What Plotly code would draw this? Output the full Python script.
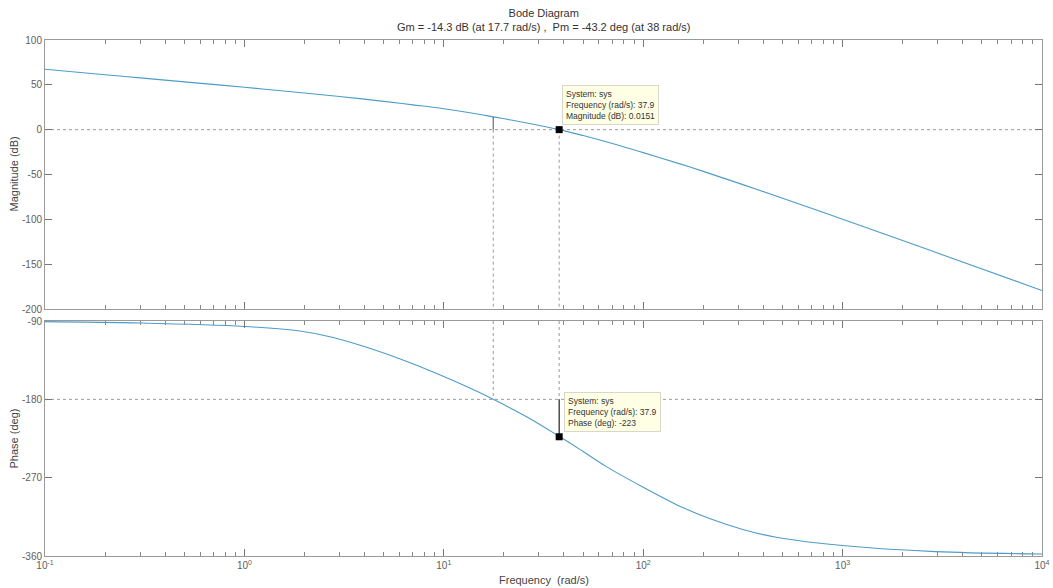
import math
import plotly.graph_objects as go

# ---------------- data ----------------
freq_mag = [0.1, 0.2, 0.3, 0.5, 1, 2, 3, 5, 7, 10, 14, 17.7, 25, 37.9, 50, 70, 100, 150, 200, 316, 500,
            1000, 2000, 3162, 10000]
mag_db = [67.3, 61.3, 57.8, 53.3, 47.3, 40.9, 37.0, 31.6, 27.7, 23.4, 18.4, 14.3, 8.2, 0.0151, -6.6, -15.4,
          -25.6, -37.6, -46.5, -61.3, -76.4, -99.8, -123.6, -139.4, -179.4]

freq_ph = [0.1, 0.3, 1, 1.9, 2.79, 4.1, 6, 8.9, 13.1, 17.7, 26, 37.9, 50, 65, 100, 147, 215, 316, 464, 1000,
           2920, 10000]
phase_deg = [-90.7, -92.3, -96.3, -101.5, -108.9, -120.2, -133.4, -148.8, -165.6, -180, -200, -222.5, -240,
             -257, -281, -301, -317, -329.5, -338.5, -348, -355, -357.7]

gm_freq = 17.7      # phase crossover (rad/s)
gm_mag = 14.3       # magnitude at phase crossover (dB)
pm_freq = 37.9      # gain crossover (rad/s)
pm_mag = 0.0151     # datatip magnitude (dB)
pm_phase = -223     # datatip phase (deg)

x_tickvals = [0.1, 1, 10, 100, 1000, 10000]
x_ticktext = ["10<sup>-1</sup>", "10<sup>0</sup>", "10<sup>1</sup>", "10<sup>2</sup>", "10<sup>3</sup>", "10<sup>4</sup>"]
mag_ticks = [100, 50, 0, -50, -100, -150, -200]
mag_ticktext = ["100", "50", "0", "-50", "-100", "-150", "-200"]
ph_ticks = [-90, -180, -270, -360]
ph_ticktext = ["-90", "-180", "-270", "-360"]

title_lines = ["Bode Diagram", "Gm = -14.3 dB (at 17.7 rad/s) ,  Pm = -43.2 deg (at 38 rad/s)"]
tip_mag = ["System: sys", "Frequency (rad/s): 37.9", "Magnitude (dB): 0.0151"]
tip_ph = ["System: sys", "Frequency (rad/s): 37.9", "Phase (deg): -223"]

# ---------------- styling ----------------
FONT = "Liberation Sans, Arial, sans-serif"
CURVE = "#4d9cc8"
FRAME = "#9a9a9a"
TICKFONT = dict(family=FONT, size=10, color="#606060")
DOT = "#9a9a9a"

fig = go.Figure()

# curves
fig.add_trace(go.Scatter(x=freq_mag, y=mag_db, mode="lines", line=dict(color=CURVE, width=1.1, shape="spline"),
                         xaxis="x", yaxis="y", hoverinfo="skip"))
fig.add_trace(go.Scatter(x=freq_ph, y=phase_deg, mode="lines", line=dict(color=CURVE, width=1.1, shape="spline"),
                         xaxis="x2", yaxis="y2", hoverinfo="skip"))

# horizontal dotted reference lines
fig.add_trace(go.Scatter(x=[x_tickvals[0], x_tickvals[-1]], y=[0, 0], mode="lines",
                         line=dict(color=DOT, width=1, dash="dot"), xaxis="x", yaxis="y", hoverinfo="skip"))
fig.add_trace(go.Scatter(x=[x_tickvals[0], x_tickvals[-1]], y=[-180, -180], mode="lines",
                         line=dict(color=DOT, width=1, dash="dot"), xaxis="x2", yaxis="y2", hoverinfo="skip"))

# vertical dotted lines at crossover frequencies
for f in (gm_freq, pm_freq):
    fig.add_trace(go.Scatter(x=[f, f], y=[0, mag_ticks[-1]], mode="lines",
                             line=dict(color=DOT, width=1, dash="dot"), xaxis="x", yaxis="y", hoverinfo="skip"))
    fig.add_trace(go.Scatter(x=[f, f], y=[ph_ticks[0], -180], mode="lines",
                             line=dict(color=DOT, width=1, dash="dot"), xaxis="x2", yaxis="y2", hoverinfo="skip"))

# margin lines
fig.add_trace(go.Scatter(x=[gm_freq, gm_freq], y=[0, gm_mag], mode="lines",
                         line=dict(color="#707070", width=1.2), xaxis="x", yaxis="y", hoverinfo="skip"))
fig.add_trace(go.Scatter(x=[pm_freq, pm_freq], y=[-180, pm_phase], mode="lines",
                         line=dict(color="#222222", width=1.2), xaxis="x2", yaxis="y2", hoverinfo="skip"))

# datatip markers
fig.add_trace(go.Scatter(x=[pm_freq], y=[pm_mag], mode="markers",
                         marker=dict(symbol="square", size=7, color="black"), xaxis="x", yaxis="y", hoverinfo="skip"))
fig.add_trace(go.Scatter(x=[pm_freq], y=[pm_phase], mode="markers",
                         marker=dict(symbol="square", size=7, color="black"), xaxis="x2", yaxis="y2", hoverinfo="skip"))

axis_common = dict(showgrid=False, zeroline=False, showline=True, linecolor=FRAME, linewidth=1,
                   mirror="ticks", ticks="inside", tickcolor="#777777", ticklen=7, tickfont=TICKFONT,
                   automargin=False)

xaxis_common = dict(axis_common, type="log", range=[math.log10(x_tickvals[0]), math.log10(x_tickvals[-1])],
                    tickvals=x_tickvals,
                    minor=dict(ticks="inside", ticklen=4, dtick="D1", tickcolor="#888888", showgrid=False))

ML, MR, MT, MB = 45, 11, 40, 32
H = 588
plot_h = H - MT - MB

mag_bottom = (H - MB - 309) / plot_h
ph_top = (H - MB - 321) / plot_h

fig.update_layout(
    width=1053, height=588,
    margin=dict(l=ML, r=MR, t=MT, b=MB),
    paper_bgcolor="white", plot_bgcolor="white",
    showlegend=False,
    font=dict(family=FONT, size=10, color="#444444"),
    xaxis=dict(xaxis_common, domain=[0, 1], anchor="y", showticklabels=False),
    yaxis=dict(axis_common, domain=[mag_bottom, 1], anchor="x", range=[mag_ticks[-1], mag_ticks[0]],
               tickvals=mag_ticks, ticktext=mag_ticktext),
    xaxis2=dict(xaxis_common, domain=[0, 1], anchor="y2", matches="x", ticktext=x_ticktext),
    yaxis2=dict(axis_common, domain=[0, ph_top], anchor="x2", range=[ph_ticks[-1], ph_ticks[0]],
                tickvals=ph_ticks, ticktext=ph_ticktext),
)

annotations = [
    dict(text="<br>".join(title_lines), xref="paper", yref="paper", x=0.5, y=1, xanchor="center",
         yanchor="bottom", yshift=5, showarrow=False, font=dict(family=FONT, size=11, color="#333333")),
    dict(text="Magnitude (dB)", xref="paper", yref="paper", x=0, y=(mag_bottom + 1) / 2, xshift=-32,
         xanchor="center", yanchor="middle", textangle=-90, showarrow=False,
         font=dict(family=FONT, size=11, color="#444444")),
    dict(text="Phase (deg)", xref="paper", yref="paper", x=0, y=ph_top / 2, xshift=-32,
         xanchor="center", yanchor="middle", textangle=-90, showarrow=False,
         font=dict(family=FONT, size=11, color="#444444")),
    dict(text="Frequency  (rad/s)", xref="paper", yref="paper", x=0.5, y=0, yshift=-24,
         xanchor="center", yanchor="middle", showarrow=False, font=dict(family=FONT, size=11, color="#444444")),
    dict(text="<br>".join(tip_mag), xref="x", yref="y", x=math.log10(pm_freq), y=pm_mag,
         xanchor="left", yanchor="bottom", xshift=3, yshift=5, showarrow=False, align="left",
         bgcolor="#ffffe6", bordercolor="#d8d8c8", borderwidth=1, borderpad=3,
         font=dict(family=FONT, size=8.5, color="#333333")),
    dict(text="<br>".join(tip_ph), xref="x2", yref="y2", x=math.log10(pm_freq), y=pm_phase,
         xanchor="left", yanchor="bottom", xshift=5, yshift=5, showarrow=False, align="left",
         bgcolor="#ffffe6", bordercolor="#d8d8c8", borderwidth=1, borderpad=3,
         font=dict(family=FONT, size=8.5, color="#333333")),
]
fig.update_layout(annotations=annotations)

fig.write_html("out.html", config={"displayModeBar": False},
               post_script="document.body.style.margin='0px';document.body.style.overflow='hidden';")
